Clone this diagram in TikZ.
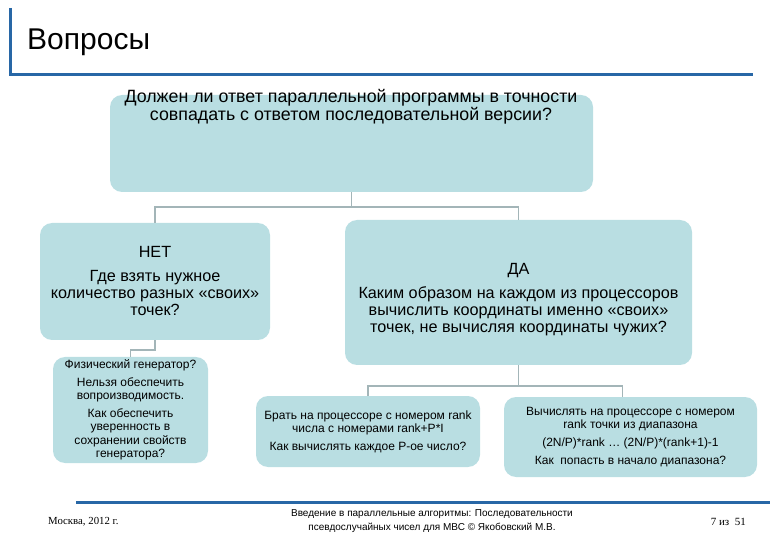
\documentclass[tikz,border=0pt]{standalone}
\usepackage{fontspec}
\setmainfont{Liberation Sans}
\newfontfamily\footserif{Liberation Serif}
\usetikzlibrary{positioning,calc}

\definecolor{boxfill}{HTML}{B9DEE2}
\definecolor{linkgray}{HTML}{A3B5B8}
\definecolor{barblue}{HTML}{2867A6}

\tikzset{
  qbox/.style={rounded corners=12pt, fill=boxfill, inner sep=0pt, align=center},
  bigtext/.style={font=\fontsize{16.2}{17}\selectfont},
  smalltext/.style={font=\fontsize{12}{13.5}\selectfont},
  link/.style={draw=linkgray, line width=1.6pt},
  bar/.style={draw=barblue, line width=3pt}
}

\begin{document}
\begin{tikzpicture}[x=1pt, y=-1pt]
    \useasboundingbox (0,0) rectangle (780,540);

    % Title
    \draw [bar] (10,8) -- (10,75) -- (753,75);
    \node [anchor=base west, inner sep=0pt, font=\fontsize{30}{34}\selectfont] (title) at (27,50) {Вопросы};

    % Question
    \node [qbox, minimum width=483, minimum height=97] (q) at (351.5,143.5) {};
    \node [align=center, anchor=north, inner sep=0pt, font=\fontsize{17.8}{16.5}\selectfont] (qtext) at (351,89)
        {Должен ли ответ параллельной программы в точности\\совпадать с ответом последовательной версии?};

    % No / Yes
    \node [qbox, bigtext, minimum width=230, minimum height=117] (net) at (155,281.5)
        {НЕТ\\[7pt]Где взять нужное\\количество разных «своих»\\точек?};
    \node [qbox, minimum width=347, minimum height=145] (da) at (518.5,292.5) {};
    \node [bigtext, align=center, inner sep=0pt] (datext) at (518.5,299.5)
        {ДА\\[7pt]Каким образом на каждом из процессоров\\вычислить координаты именно «своих»\\точек, не вычисляя координаты чужих?};

    % Answers
    \node [qbox, smalltext, minimum width=155, minimum height=106] (phys) at (130.5,410)
        {Физический генератор?\\[4pt]Нельзя обеспечить\\вопроизводимость.\\[4pt]Как обеспечить\\уверенность в\\сохранении свойств\\генератора?};
    \node [qbox, smalltext, minimum width=224, minimum height=71] (rank) at (368,431.5)
        {Брать на процессоре с номером rank\\числа с номерами rank+P*I\\[4pt]Как вычислять каждое P-ое число?};
    \node [qbox, smalltext, minimum width=253, minimum height=80] (range) at (630.5,437)
        {Вычислять на процессоре с номером\\rank точки из диапазона\\[4pt](2N/P)*rank … (2N/P)*(rank+1)-1\\[5pt]Как\ \ попасть в начало диапазона?};

    % Links
    \draw [link] (q.south) -- ++(0,15) coordinate (qbus) -| (net.north);
    \draw [link] (qbus) -| (da.north);
    \draw [link] (net.south) -- ++(0,10) -| (phys.north);
    \draw [link] (da.south) -- ++(0,21) coordinate (dbus) -| (rank.north);
    \draw [link] (dbus) -| ([xshift=-8pt]range.north);

    % Footer
    \draw [bar] (76,502) -- (770,502);
    \node [anchor=west, inner sep=0pt, font=\footserif\fontsize{10.8}{12}\selectfont] (place) at (48,522) {Москва, 2012 г.};
    \node [align=center, inner sep=0pt, font=\fontsize{10}{14}\selectfont] (course) at (432,521)
        {Введение в параллельные алгоритмы: Последовательности\\псевдослучайных чисел для МВС © Якобовский М.В.};
    \node [anchor=east, inner sep=0pt, font=\footserif\fontsize{11}{12}\selectfont] (page) at (746,522) {7 из\ \ 51};
\end{tikzpicture}
\end{document}
